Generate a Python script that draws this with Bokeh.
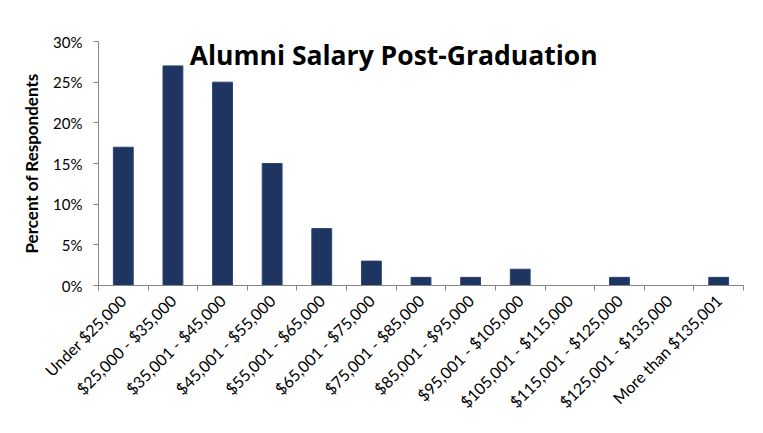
import math
from bokeh.plotting import figure
from bokeh.models import FixedTicker, Label, ColumnDataSource, Range1d
from bokeh.embed import file_html
from bokeh.resources import INLINE

categories = ["Under $25,000", "$25,000 - $35,000", "$35,001 - $45,000", "$45,001 - $55,000",
              "$55,001 - $65,000", "$65,001 - $75,000", "$75,001 - $85,000", "$85,001 - $95,000",
              "$95,001 - $105,000", "$105,001 - $115,000", "$115,001 - $125,000",
              "$125,001 - $135,000", "More than $135,001"]
percents = [17, 27, 25, 15, 7, 3, 1, 1, 2, 0, 1, 0, 1]
y_ticks = [0, 5, 10, 15, 20, 25, 30]

n = len(categories)
centers = [i + 0.5 for i in range(n)]
src = ColumnDataSource(dict(x=centers, top=percents, cat=categories))

FONT = "Lato"

p = figure(width=755, height=425, output_backend="svg", toolbar_location=None,
           x_range=Range1d(0, n), y_range=Range1d(0, 30),
           min_border_left=98, min_border_right=12, min_border_top=41, min_border_bottom=140)
p.outline_line_color = None
p.xgrid.visible = False
p.ygrid.visible = False

p.vbar(x="x", top="top", width=0.4, source=src, fill_color="#1f3561", line_color="#2c4375", line_width=1)

xa = p.xaxis[0]
xa.ticker = FixedTicker(ticks=centers, minor_ticks=list(range(n + 1)))
xa.major_label_overrides = {c: lab for c, lab in zip(centers, categories)}
xa.major_label_orientation = math.pi / 4
xa.major_tick_in = 0
xa.major_tick_out = 0
xa.minor_tick_in = 0
xa.minor_tick_out = 5
xa.minor_tick_line_color = "#868686"
xa.axis_line_color = "#868686"
xa.major_label_text_font = FONT
xa.major_label_text_font_size = "16px"
xa.major_label_text_color = "#000000"
xa.major_label_standoff = 7

ya = p.yaxis[0]
ya.ticker = FixedTicker(ticks=y_ticks, minor_ticks=[])
ya.major_label_overrides = {t: f"{t}%" for t in y_ticks}
ya.major_tick_in = 0
ya.major_tick_out = 5
ya.major_tick_line_color = "#868686"
ya.axis_line_color = "#868686"
ya.major_label_text_font = FONT
ya.major_label_text_font_size = "15px"
ya.major_label_text_color = "#000000"
ya.major_label_standoff = 11
ya.axis_label = "Percent of Respondents"
ya.axis_label_text_font = FONT
ya.axis_label_text_font_style = "bold"
ya.axis_label_text_font_size = "17px"
ya.axis_label_text_color = "#000000"
ya.axis_label_standoff = 8

title = Label(x=5.95, y=28.28, text="Alumni Salary Post-Graduation", text_align="center",
              text_baseline="alphabetic", text_font="Open Sans", text_font_style="bold",
              text_font_size="26.5px", text_color="#000000")
p.add_layout(title)

open("out.html", "w").write(file_html(p, INLINE))
